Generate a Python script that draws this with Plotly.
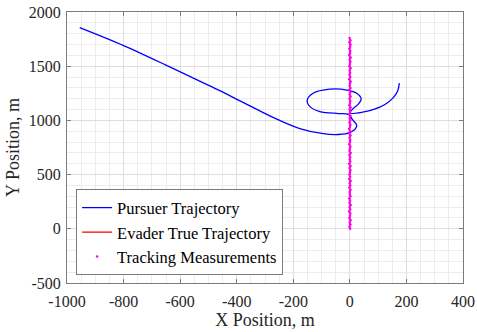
import plotly.graph_objects as go

# Pursuer trajectory
pursuer_x = [-955, -800, -650, -531, -460, -390, -320, -250, -177, -94, -40, 0, 20, 24, 10, -5,
             -40, -106, -140, -151, -130, -71, -10, 24, 40, 30, 12, 0, 45, 87, 124, 152, 169, 175]
pursuer_y = [1855, 1690, 1510, 1362, 1275, 1182, 1090, 1002, 925, 877, 870, 887, 925, 958, 1005, 1055,
             1063, 1082, 1125, 1183, 1250, 1288, 1280, 1251, 1200, 1150, 1110, 1068, 1076, 1103, 1147, 1205, 1272, 1344]

# Evader true trajectory
evader_x = [0, 0]
evader_y = [0, 1750]

# Tracking measurements
meas_y = [0, 20, 40, 60, 80, 100, 120, 140, 160, 180, 200, 220, 240, 260, 280, 300, 320, 340, 360, 380,
          400, 420, 440, 460, 480, 500, 520, 540, 560, 580, 600, 620, 640, 660, 680, 700, 720, 740, 760, 780,
          800, 820, 840, 860, 880, 900, 920, 940, 960, 980, 1000, 1020, 1040, 1060, 1080, 1100, 1120, 1140,
          1160, 1180, 1200, 1220, 1240, 1260, 1280, 1300, 1320, 1340, 1360, 1380, 1400, 1420, 1440, 1460,
          1480, 1500, 1520, 1540, 1560, 1580, 1600, 1620, 1640, 1660, 1680, 1700, 1720, 1740, 1760]
meas_x = [1, -1.5, 2, -0.5, 2.5, -2, 0.5, 1.5, -3, 1, -1, 3, -1.5, 0.5, -2.5, 2, 0, -1, 2.5, -2, 1.5,
          -0.5, 3, -2.5, 1, -1.5, 0.5, 2, -1, 2.5, -3, 1.5, -0.5, 1, -2, 3, -1.5, 0, 2, -2.5, 0.5, 1.5,
          -1, 2.5, -2, 1, -3, 0.5, 2, -1.5, 1.5, -0.5, 2.5, -2.5, 1, -1, 3, -2, 0.5, 1.5, -1.5, 2.5, -0.5,
          1, -3, 2, -1, 0.5, 3, -2.5, 1.5, -1.5, 1, -0.5, 2.5, -2, 0, 2, -1, 3, -2.5, 0.5, 1.5, -2, 1,
          2.5, -1.5, 2, -1]

x_ticks = [-1000, -800, -600, -400, -200, 0, 200, 400]
y_ticks = [-500, 0, 500, 1000, 1500, 2000]

SERIF = "Liberation Serif, Times New Roman, serif"

fig = go.Figure()
fig.add_trace(go.Scatter(x=pursuer_x, y=pursuer_y, mode="lines", name="Pursuer Trajectory",
                         line=dict(color="#0000ff", width=1.3, shape="spline", smoothing=0.9)))
fig.add_trace(go.Scatter(x=evader_x, y=evader_y, mode="lines", name="Evader True Trajectory",
                         line=dict(color="#ff0000", width=1.3)))
fig.add_trace(go.Scatter(x=meas_x, y=meas_y, mode="markers", name="Tracking Measurements",
                         marker=dict(color="#ff00ff", size=2.5, line=dict(width=0))))

axis_common = dict(
    showline=True, linecolor="#7a7a7a", linewidth=1, mirror="ticks",
    ticks="inside", ticklen=4, tickcolor="#7a7a7a",
    showgrid=True, gridcolor="#dedede", gridwidth=1,
    zeroline=False, automargin=False,
    tickfont=dict(family=SERIF, size=16, color="#262626"),
)

fig.update_layout(
    width=477, height=332,
    margin=dict(l=67, r=14, t=12, b=49),
    paper_bgcolor="white", plot_bgcolor="white",
    font=dict(family=SERIF, color="#262626", size=16),
    showlegend=True,
    legend=dict(x=0.023, y=0.028, xanchor="left", yanchor="bottom",
                bgcolor="white", bordercolor="#7a7a7a", borderwidth=1,
                font=dict(family=SERIF, size=16.5, color="#000000"),
                tracegroupgap=0, itemwidth=30),
)
fig.update_xaxes(range=[-1000, 400], tickvals=x_ticks, ticktext=[str(v) for v in x_ticks],
                 minor=dict(dtick=50, tick0=0, showgrid=True, gridcolor="#ececec", ticks=""),
                 ticklabelstandoff=4,
                 title=dict(text="X Position, m", font=dict(family=SERIF, size=18, color="#262626"), standoff=4),
                 **axis_common)
fig.update_yaxes(range=[-500, 2000], tickvals=y_ticks, ticktext=[str(v) for v in y_ticks],
                 minor=dict(dtick=100, tick0=0, showgrid=True, gridcolor="#ececec", ticks=""),
                 ticklabelstandoff=2,
                 title=dict(text="Y Position, m", font=dict(family=SERIF, size=18, color="#262626"), standoff=4),
                 **axis_common)

fig.write_html("out.html")
